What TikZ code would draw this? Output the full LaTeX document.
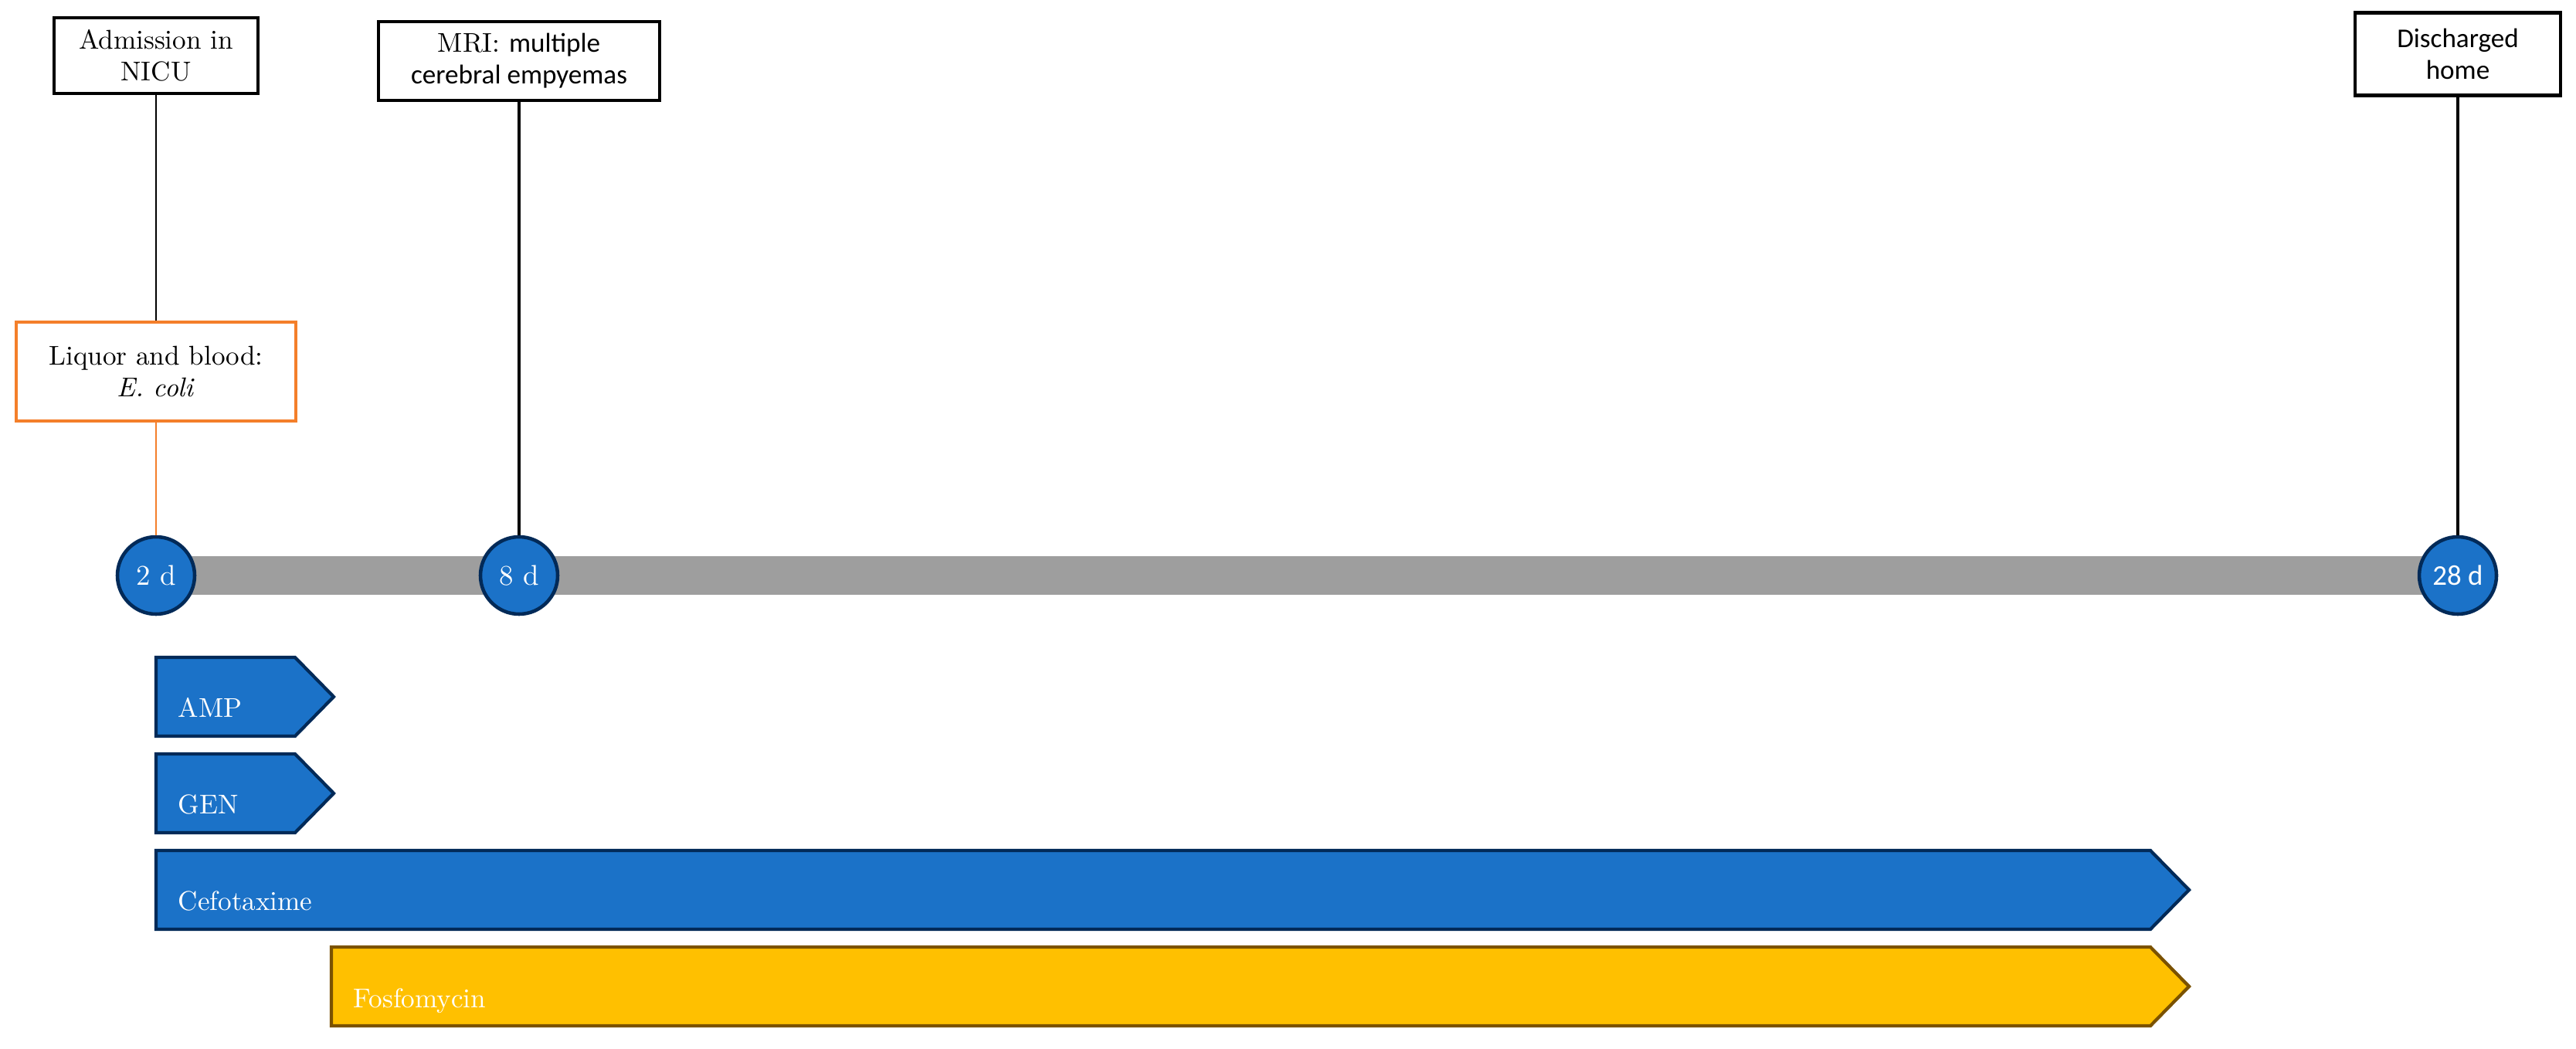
\documentclass[tikz,border=0pt]{standalone}
\usepackage{fontspec}
\usepackage{tikz}
\usetikzlibrary{backgrounds}

\newfontfamily\calibri{Carlito}

\definecolor{drugBlue}{HTML}{1B72C8}
\definecolor{drugNavy}{HTML}{022A58}
\definecolor{barGray}{HTML}{9E9E9E}
\definecolor{fosYellow}{HTML}{FFC000}
\definecolor{fosBrown}{HTML}{7B5200}
\definecolor{cultOrange}{HTML}{F47F2A}

\begin{document}
\begin{tikzpicture}[
  event/.style={draw=black, line width=1.3pt, fill=white, align=center, inner sep=0pt,
                font=\fontsize{10}{11.6}\selectfont},
  day/.style={circle, draw=drugNavy, fill=drugBlue, line width=1.3pt, minimum size=1cm,
              inner sep=0pt, text=white, font=\fontsize{10.5}{12}\selectfont},
  drug/.style={fill=drugBlue, draw=drugNavy, line width=1.2pt, line join=miter},
  druglabel/.style={anchor=base west, text=white, inner sep=0pt, font=\fontsize{10}{12}\selectfont}
]
\useasboundingbox (0,0) rectangle (33.35,-13.57);

% timeline
\node[day] (d2)  at ( 2.02,-7.45) {2 d};
\node[day] (d8)  at ( 6.72,-7.45) {8 d};
\node[day] (d28) at (31.82,-7.45) {\calibri 28 d};
\begin{scope}[on background layer]
\draw[barGray, line width=0.5cm] (d2.center) -- (d28.center);
\end{scope}

% events
\node[event, minimum width=2.64cm, minimum height=0.98cm] (adm) at (2.02,-0.72) {Admission in\\NICU};
\node[event, draw=cultOrange, line width=1.1pt, minimum width=3.62cm, minimum height=1.28cm]
      (liq) at (2.02,-4.81) {Liquor and blood:\\\textit{E. coli}};
\node[event, minimum width=3.64cm, minimum height=1.02cm] (mri) at (6.72,-0.79)
      {MRI: {\calibri multiple}\\{\calibri cerebral empyemas}};
\node[event, minimum width=2.66cm, minimum height=1.07cm] (dis) at (31.82,-0.70)
      {\calibri Discharged\\\calibri home};

\draw[line width=0.5pt]             (adm) -- (liq);
\draw[cultOrange, line width=0.5pt] (liq) -- (d2);
\draw[line width=0.9pt]             (mri) -- (d8);
\draw[line width=1pt]               (dis) -- (d28);

% antibiotics
\draw[drug] (2.02,-8.51) -- (3.82,-8.51) -- (4.32,-9.02) -- (3.82,-9.53) -- (2.02,-9.53) -- cycle;
\node[druglabel] (amp) at (2.30,-9.28) {AMP};

\draw[drug] (2.02,-9.76) -- (3.82,-9.76) -- (4.32,-10.27) -- (3.82,-10.78) -- (2.02,-10.78) -- cycle;
\node[druglabel] (gen) at (2.30,-10.53) {GEN};

\draw[drug] (2.02,-11.01) -- (27.84,-11.01) -- (28.34,-11.52) -- (27.84,-12.03) -- (2.02,-12.03) -- cycle;
\node[druglabel] (cef) at (2.30,-11.78) {Cefotaxime};

\draw[drug, fill=fosYellow, draw=fosBrown] (4.29,-12.26) -- (27.84,-12.26) -- (28.34,-12.77) -- (27.84,-13.28) -- (4.29,-13.28) -- cycle;
\node[druglabel] (fos) at (4.57,-13.04) {Fosfomycin};

\end{tikzpicture}
\end{document}
